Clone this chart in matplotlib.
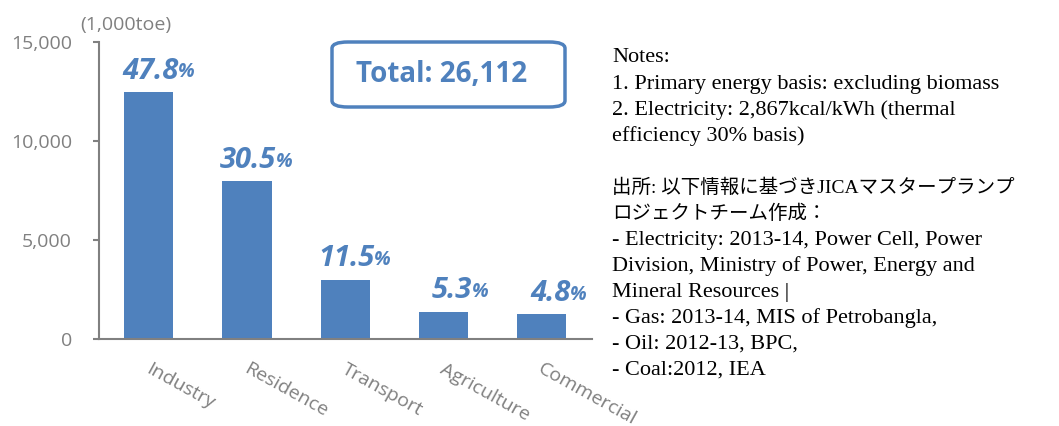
import matplotlib.pyplot as plt
from matplotlib.patches import FancyBboxPatch

# data
sectors = ["Industry", "Residence", "Transport", "Agriculture", "Commercial"]
consumption = [12482, 7964, 3003, 1384, 1253]   # 1,000toe
shares = ["47.8", "30.5", "11.5", "5.3", "4.8"]
total_label = "Total: 26,112"
yticks = [0, 5000, 10000, 15000]

notes = [
    "Notes:",
    "1. Primary energy basis: excluding biomass",
    "2. Electricity: 2,867kcal/kWh (thermal",
    "efficiency 30% basis)",
    "",
    "出所: 以下情報に基づきJICAマスタープランプ",
    "ロジェクトチーム作成：",
    "- Electricity: 2013-14, Power Cell, Power",
    "Division, Ministry of Power, Energy and",
    "Mineral Resources |",
    "- Gas: 2013-14, MIS of Petrobangla,",
    "- Oil: 2012-13, BPC,",
    "- Coal:2012, IEA",
]

blue = "#4F81BD"
gray = "#808080"
W, H = 1059, 426

fig = plt.figure(figsize=(W / 100, H / 100), dpi=100)
ax = fig.add_axes([99 / W, 1 - 339 / H, (592 - 99) / W, (339 - 42) / H])

x = list(range(len(sectors)))
ax.bar(x, consumption, width=0.5, color=blue, zorder=2)
ax.set_xlim(-0.51, 4.52)
ax.set_ylim(0, 15000)

for s in ["top", "right"]:
    ax.spines[s].set_visible(False)
for s in ["left", "bottom"]:
    ax.spines[s].set_color(gray)
    ax.spines[s].set_linewidth(1.5)

ax.set_yticks(yticks)
ax.set_yticklabels([f"{v:,}" for v in yticks], fontsize=14, color=gray,
                   family="Open Sans")
ax.tick_params(axis="y", length=4.5, width=1.5, color=gray, pad=15)
ax.set_xticks(x)
ax.set_xticklabels([])
ax.tick_params(axis="x", length=0)

for xi, name in zip(x, sectors):
    ax.annotate(name, (xi, 0), xytext=(2, -15), textcoords="offset points",
                rotation=-29, rotation_mode="anchor", ha="left", va="top",
                fontsize=14, color=gray, family="Open Sans")

for xi, v, s in zip(x, consumption, shares):
    ax.annotate(s, (xi, v), xytext=(21, 15), textcoords="offset points",
                ha="right", va="center", fontsize=21, fontweight="bold",
                fontstyle="italic", color=blue, family="Open Sans")
    ax.annotate("%", (xi, v), xytext=(21, 14), textcoords="offset points",
                ha="left", va="center", fontsize=14, fontweight="bold",
                fontstyle="italic", color=blue, family="Open Sans")

fig.text(126 / W, 1 - 25 / H, "(1,000toe)", ha="center", va="center",
         fontsize=14, color=gray, family="Open Sans")

box = FancyBboxPatch((332 / W, 1 - 107 / H), 233 / W, 65 / H,
                     boxstyle="round,pad=0,rounding_size=0.015",
                     transform=fig.transFigure, fill=False,
                     edgecolor=blue, linewidth=2.5)
fig.patches.append(box)
fig.text(442 / W, 1 - 75 / H, total_label, ha="center", va="center",
         fontsize=20, fontweight="bold", color=blue, family="Open Sans")

for i, line in enumerate(notes):
    # the Japanese lines run wider, so they get a smaller size
    size = 14 if any(ord(c) > 0x3000 for c in line) else 16
    fig.text(612 / W, 1 - (58 + 26 * i) / H, line, ha="left", va="center",
             fontsize=size, color="black",
             family=["Liberation Serif", "Noto Sans CJK JP"])

fig.savefig("out.png", dpi=100)
